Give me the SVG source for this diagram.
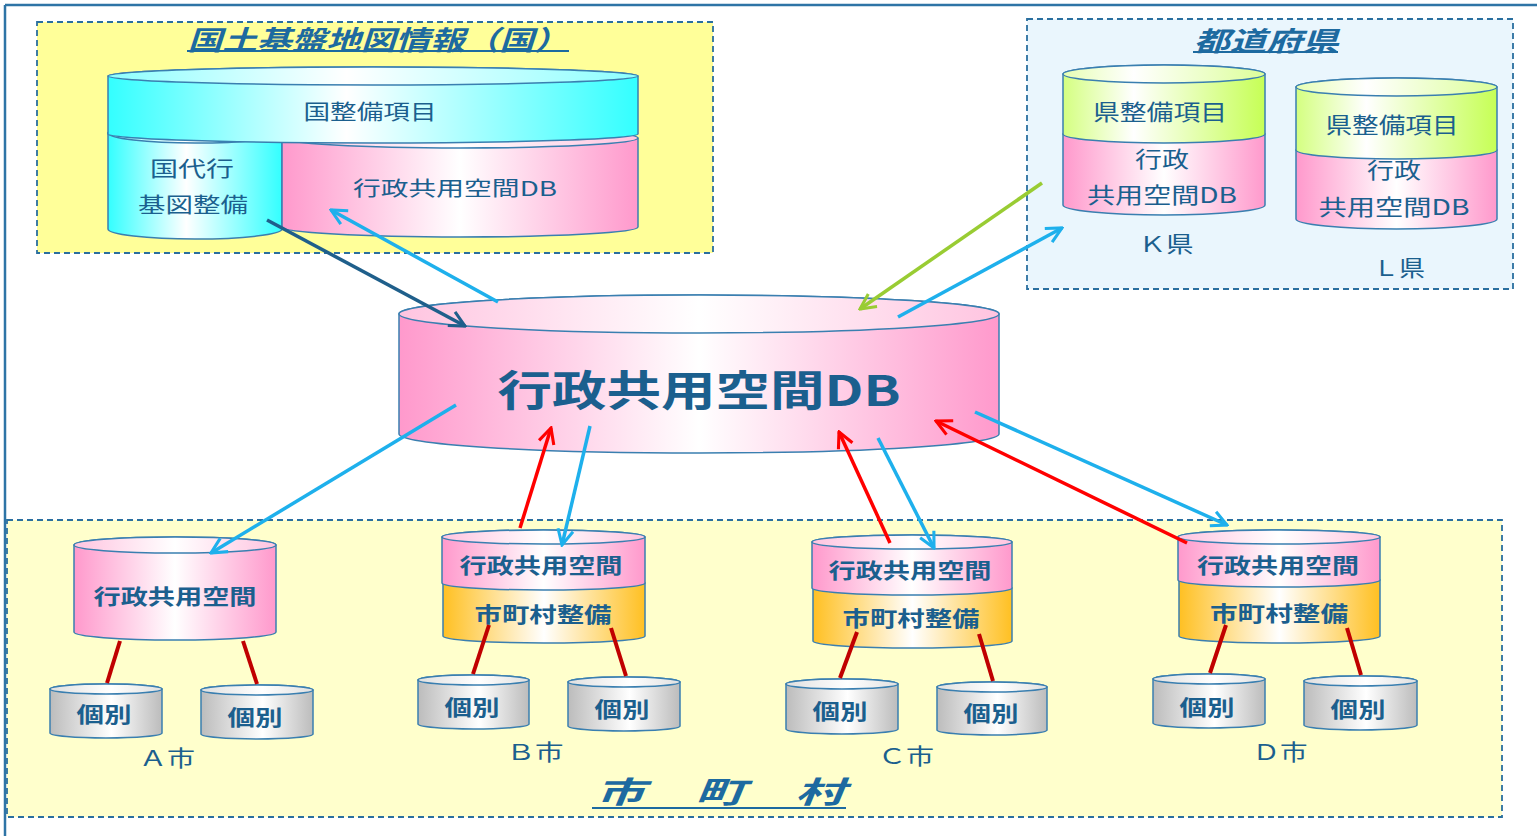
<svg xmlns="http://www.w3.org/2000/svg" width="1537" height="836" viewBox="0 0 1537 836">
<style>
.t{font-family:"Noto Sans CJK JP","Noto Sans CJK SC",sans-serif;fill:#1b5f8e;text-anchor:middle;dominant-baseline:central}
.b{font-weight:bold}
.ttl{font-style:italic;font-weight:bold;fill:#1d6aa0}
.ol{stroke:#3a7fb0;stroke-width:1.5}
.box{stroke:#2a6f9f;stroke-width:1.8;stroke-dasharray:6 4}
.ul{stroke:#1d6aa0;stroke-width:2}
.arr{fill:none;stroke-width:3.5}
.link{stroke:#c00000;stroke-width:4;stroke-linecap:butt}
</style>
<defs>
<linearGradient id="gPink" x1="0" y1="0" x2="1" y2="0"><stop offset="0" stop-color="#ff99cc"/><stop offset="0.5" stop-color="#ffffff"/><stop offset="1" stop-color="#ff99cc"/></linearGradient>
<linearGradient id="gPinkT" x1="0" y1="0" x2="1" y2="0"><stop offset="0" stop-color="#ffc4e0"/><stop offset="0.5" stop-color="#ffffff"/><stop offset="1" stop-color="#ffc4e0"/></linearGradient>
<linearGradient id="gCyan" x1="0" y1="0" x2="1" y2="0"><stop offset="0" stop-color="#33ffff"/><stop offset="0.45" stop-color="#ffffff"/><stop offset="1" stop-color="#33ffff"/></linearGradient>
<linearGradient id="gCyanT" x1="0" y1="0" x2="1" y2="0"><stop offset="0" stop-color="#8cffff"/><stop offset="0.45" stop-color="#ffffff"/><stop offset="1" stop-color="#8cffff"/></linearGradient>
<linearGradient id="gGreen" x1="0" y1="0" x2="1" y2="0"><stop offset="0" stop-color="#d4ff80"/><stop offset="0.35" stop-color="#ffffff"/><stop offset="1" stop-color="#c6ff55"/></linearGradient>
<linearGradient id="gGreenT" x1="0" y1="0" x2="1" y2="0"><stop offset="0" stop-color="#e6ffb3"/><stop offset="0.35" stop-color="#ffffff"/><stop offset="1" stop-color="#dcff99"/></linearGradient>
<linearGradient id="gOrange" x1="0" y1="0" x2="1" y2="0"><stop offset="0" stop-color="#ffc022"/><stop offset="0.5" stop-color="#ffffff"/><stop offset="1" stop-color="#ffc022"/></linearGradient>
<linearGradient id="gGray" x1="0" y1="0" x2="1" y2="0"><stop offset="0" stop-color="#bcbcbc"/><stop offset="0.55" stop-color="#ffffff"/><stop offset="1" stop-color="#bcbcbc"/></linearGradient>
<linearGradient id="gGrayT" x1="0" y1="0" x2="1" y2="0"><stop offset="0" stop-color="#e0e0e0"/><stop offset="0.55" stop-color="#ffffff"/><stop offset="1" stop-color="#e0e0e0"/></linearGradient>
<marker id="mDark" viewBox="0 0 10 10" refX="9" refY="5" markerWidth="5.5" markerHeight="5.5" orient="auto" markerUnits="strokeWidth"><path d="M1,1 L9,5 L1,9" fill="none" stroke="#1f5f8b" stroke-width="1.6"/></marker>
<marker id="mCyan" viewBox="0 0 10 10" refX="9" refY="5" markerWidth="5.5" markerHeight="5.5" orient="auto" markerUnits="strokeWidth"><path d="M1,1 L9,5 L1,9" fill="none" stroke="#1eb0ec" stroke-width="1.6"/></marker>
<marker id="mGreen" viewBox="0 0 10 10" refX="9" refY="5" markerWidth="5.5" markerHeight="5.5" orient="auto" markerUnits="strokeWidth"><path d="M1,1 L9,5 L1,9" fill="none" stroke="#99cc33" stroke-width="1.6"/></marker>
<marker id="mRed" viewBox="0 0 10 10" refX="9" refY="5" markerWidth="5.5" markerHeight="5.5" orient="auto" markerUnits="strokeWidth"><path d="M1,1 L9,5 L1,9" fill="none" stroke="#ff0000" stroke-width="1.6"/></marker>
</defs>
<rect x="0" y="0" width="1537" height="836" fill="#ffffff"/>
<g id="frame">
<line x1="5" y1="5" x2="1537" y2="5" stroke="#2e74a6" stroke-width="2.5"/>
<line x1="5" y1="5" x2="5" y2="836" stroke="#2e74a6" stroke-width="2.5"/>
</g>
<g id="region-kuni">
<rect class="box" x="37" y="22" width="676" height="231" fill="#ffff99"/>
<text class="t ttl" x="378" y="38" style="font-size:27px" textLength="381" lengthAdjust="spacingAndGlyphs">国土基盤地図情報（国）</text>
<line class="ul" x1="187" y1="51" x2="569" y2="51"/>
</g>
<g id="region-ken">
<rect class="box" x="1027" y="19" width="486" height="270" fill="#eaf6fd"/>
<text class="t ttl" x="1266" y="39" style="font-size:27px" textLength="145" lengthAdjust="spacingAndGlyphs">都道府県</text>
<line class="ul" x1="1193" y1="52" x2="1338" y2="52"/>
</g>
<g id="region-shichoson">
<rect class="box" x="7" y="520" width="1495" height="297" fill="#ffffcc"/>
<text class="t ttl" x="720" y="790" style="font-size:30px" textLength="250" lengthAdjust="spacingAndGlyphs">市　町　村</text>
<line class="ul" x1="592" y1="808" x2="846" y2="808"/>
</g>
<g id="node-kuni-db">
<path class="ol" d="M108,133 L108,229 A87,10 0 0 0 282,229 L282,133 A87,10 0 0 0 108,133 Z" fill="url(#gCyan)"/>
<ellipse class="ol" cx="195" cy="133" rx="87" ry="10" fill="url(#gCyanT)"/>
<path class="ol" d="M282,138 L282,227 A178,10 0 0 0 638,227 L638,138 A178,10 0 0 0 282,138 Z" fill="url(#gPink)"/>
<ellipse class="ol" cx="460" cy="138" rx="178" ry="10" fill="url(#gPinkT)"/>
<path class="ol" d="M108,76 L108,134 A265,9 0 0 0 638,134 L638,76 A265,9 0 0 0 108,76 Z" fill="url(#gCyan)"/>
<ellipse class="ol" cx="373" cy="76" rx="265" ry="9" fill="url(#gCyanT)"/>
<text class="t" x="370" y="110" style="font-size:21px" textLength="133" lengthAdjust="spacingAndGlyphs">国整備項目</text>
<text class="t" x="192" y="167" style="font-size:21px" textLength="84" lengthAdjust="spacingAndGlyphs">国代行</text>
<text class="t" x="193" y="203" style="font-size:21px" textLength="110" lengthAdjust="spacingAndGlyphs">基図整備</text>
<text class="t" x="455" y="187" style="font-size:20px" textLength="204" lengthAdjust="spacingAndGlyphs">行政共用空間DB</text>
</g>
<g id="node-k-ken">
<path class="ol" d="M1063,134 L1063,205 A101,10 0 0 0 1265,205 L1265,134 A101,10 0 0 0 1063,134 Z" fill="url(#gPink)"/>
<path class="ol" d="M1063,74 L1063,134 A101,9 0 0 0 1265,134 L1265,74 A101,9 0 0 0 1063,74 Z" fill="url(#gGreen)"/>
<ellipse class="ol" cx="1164" cy="74" rx="101" ry="9" fill="url(#gGreenT)"/>
<text class="t" x="1160" y="110" style="font-size:22px" textLength="134" lengthAdjust="spacingAndGlyphs">県整備項目</text>
<text class="t" x="1162" y="157" style="font-size:22px" textLength="54" lengthAdjust="spacingAndGlyphs">行政</text>
<text class="t" x="1162" y="193" style="font-size:22px" textLength="150" lengthAdjust="spacingAndGlyphs">共用空間DB</text>
<text class="t" x="1166" y="242" style="font-size:22px" textLength="55" lengthAdjust="spacingAndGlyphs">Ｋ県</text>
</g>
<g id="node-l-ken">
<path class="ol" d="M1296,150 L1296,219 A100.5,10 0 0 0 1497,219 L1497,150 A100.5,10 0 0 0 1296,150 Z" fill="url(#gPink)"/>
<path class="ol" d="M1296,87 L1296,150 A100.5,9 0 0 0 1497,150 L1497,87 A100.5,9 0 0 0 1296,87 Z" fill="url(#gGreen)"/>
<ellipse class="ol" cx="1396.5" cy="87" rx="100.5" ry="9" fill="url(#gGreenT)"/>
<text class="t" x="1392" y="123" style="font-size:22px" textLength="133" lengthAdjust="spacingAndGlyphs">県整備項目</text>
<text class="t" x="1394" y="168" style="font-size:22px" textLength="54" lengthAdjust="spacingAndGlyphs">行政</text>
<text class="t" x="1394" y="205" style="font-size:22px" textLength="151" lengthAdjust="spacingAndGlyphs">共用空間DB</text>
<text class="t" x="1399" y="266" style="font-size:22px" textLength="52" lengthAdjust="spacingAndGlyphs">Ｌ県</text>
</g>
<g id="node-central">
<path class="ol" d="M399,314 L399,434 A300,19 0 0 0 999,434 L999,314 A300,19 0 0 0 399,314 Z" fill="url(#gPink)"/>
<ellipse class="ol" cx="699" cy="314" rx="300" ry="19" fill="url(#gPinkT)"/>
<text class="t b" x="699" y="387" style="font-size:42px" textLength="403" lengthAdjust="spacingAndGlyphs">行政共用空間DB</text>
</g>
<g id="node-a">
<path class="ol" d="M74,545 L74,632 A101,8 0 0 0 276,632 L276,545 A101,8 0 0 0 74,545 Z" fill="url(#gPink)"/>
<ellipse class="ol" cx="175" cy="545" rx="101" ry="8" fill="url(#gPinkT)"/>
<text class="t b" x="175" y="595" style="font-size:21px" textLength="163" lengthAdjust="spacingAndGlyphs">行政共用空間</text>
<path class="ol" d="M50,689 L50,733 A56,5 0 0 0 162,733 L162,689 A56,5 0 0 0 50,689 Z" fill="url(#gGray)"/>
<ellipse class="ol" cx="106" cy="689" rx="56" ry="5" fill="url(#gGrayT)"/>
<text class="t b" x="104" y="713" style="font-size:21px" textLength="55" lengthAdjust="spacingAndGlyphs">個別</text>
<path class="ol" d="M201,690 L201,734 A56,5 0 0 0 313,734 L313,690 A56,5 0 0 0 201,690 Z" fill="url(#gGray)"/>
<ellipse class="ol" cx="257" cy="690" rx="56" ry="5" fill="url(#gGrayT)"/>
<text class="t b" x="255" y="716" style="font-size:21px" textLength="55" lengthAdjust="spacingAndGlyphs">個別</text>
<text class="t" x="167" y="756" style="font-size:22px" textLength="56" lengthAdjust="spacingAndGlyphs">Ａ市</text>
</g>
<g id="node-b">
<path class="ol" d="M443,583 L443,636 A101,7 0 0 0 645,636 L645,583 A101,7 0 0 0 443,583 Z" fill="url(#gOrange)"/>
<path class="ol" d="M442,537 L442,583 A101.5,7 0 0 0 645,583 L645,537 A101.5,7 0 0 0 442,537 Z" fill="url(#gPink)"/>
<ellipse class="ol" cx="543.5" cy="537" rx="101.5" ry="7" fill="url(#gPinkT)"/>
<text class="t b" x="541" y="564" style="font-size:21px" textLength="163" lengthAdjust="spacingAndGlyphs">行政共用空間</text>
<text class="t b" x="543" y="613" style="font-size:21px" textLength="137" lengthAdjust="spacingAndGlyphs">市町村整備</text>
<path class="ol" d="M418,680 L418,724 A55.5,5 0 0 0 529,724 L529,680 A55.5,5 0 0 0 418,680 Z" fill="url(#gGray)"/>
<ellipse class="ol" cx="473.5" cy="680" rx="55.5" ry="5" fill="url(#gGrayT)"/>
<text class="t b" x="472" y="706" style="font-size:21px" textLength="55" lengthAdjust="spacingAndGlyphs">個別</text>
<path class="ol" d="M568,682 L568,726 A56,5 0 0 0 680,726 L680,682 A56,5 0 0 0 568,682 Z" fill="url(#gGray)"/>
<ellipse class="ol" cx="624" cy="682" rx="56" ry="5" fill="url(#gGrayT)"/>
<text class="t b" x="622" y="708" style="font-size:21px" textLength="55" lengthAdjust="spacingAndGlyphs">個別</text>
<text class="t" x="535" y="750" style="font-size:22px" textLength="57" lengthAdjust="spacingAndGlyphs">Ｂ市</text>
</g>
<g id="node-c">
<path class="ol" d="M813,588 L813,641 A99.5,7 0 0 0 1012,641 L1012,588 A99.5,7 0 0 0 813,588 Z" fill="url(#gOrange)"/>
<path class="ol" d="M812,542 L812,588 A100,7 0 0 0 1012,588 L1012,542 A100,7 0 0 0 812,542 Z" fill="url(#gPink)"/>
<ellipse class="ol" cx="912" cy="542" rx="100" ry="7" fill="url(#gPinkT)"/>
<text class="t b" x="910" y="569" style="font-size:21px" textLength="163" lengthAdjust="spacingAndGlyphs">行政共用空間</text>
<text class="t b" x="911" y="617" style="font-size:21px" textLength="137" lengthAdjust="spacingAndGlyphs">市町村整備</text>
<path class="ol" d="M786,684 L786,729 A56,5 0 0 0 898,729 L898,684 A56,5 0 0 0 786,684 Z" fill="url(#gGray)"/>
<ellipse class="ol" cx="842" cy="684" rx="56" ry="5" fill="url(#gGrayT)"/>
<text class="t b" x="840" y="710" style="font-size:21px" textLength="55" lengthAdjust="spacingAndGlyphs">個別</text>
<path class="ol" d="M937,687 L937,730 A55,5 0 0 0 1047,730 L1047,687 A55,5 0 0 0 937,687 Z" fill="url(#gGray)"/>
<ellipse class="ol" cx="992" cy="687" rx="55" ry="5" fill="url(#gGrayT)"/>
<text class="t b" x="991" y="712" style="font-size:21px" textLength="55" lengthAdjust="spacingAndGlyphs">個別</text>
<text class="t" x="906" y="754" style="font-size:22px" textLength="56" lengthAdjust="spacingAndGlyphs">Ｃ市</text>
</g>
<g id="node-d">
<path class="ol" d="M1179,580 L1179,636 A100.5,7 0 0 0 1380,636 L1380,580 A100.5,7 0 0 0 1179,580 Z" fill="url(#gOrange)"/>
<path class="ol" d="M1178,537 L1178,580 A101,7 0 0 0 1380,580 L1380,537 A101,7 0 0 0 1178,537 Z" fill="url(#gPink)"/>
<ellipse class="ol" cx="1279" cy="537" rx="101" ry="7" fill="url(#gPinkT)"/>
<text class="t b" x="1278" y="564" style="font-size:21px" textLength="162" lengthAdjust="spacingAndGlyphs">行政共用空間</text>
<text class="t b" x="1279" y="612" style="font-size:21px" textLength="138" lengthAdjust="spacingAndGlyphs">市町村整備</text>
<path class="ol" d="M1153,679 L1153,723 A56,5 0 0 0 1265,723 L1265,679 A56,5 0 0 0 1153,679 Z" fill="url(#gGray)"/>
<ellipse class="ol" cx="1209" cy="679" rx="56" ry="5" fill="url(#gGrayT)"/>
<text class="t b" x="1207" y="706" style="font-size:21px" textLength="55" lengthAdjust="spacingAndGlyphs">個別</text>
<path class="ol" d="M1304,681 L1304,725 A56.5,5 0 0 0 1417,725 L1417,681 A56.5,5 0 0 0 1304,681 Z" fill="url(#gGray)"/>
<ellipse class="ol" cx="1360.5" cy="681" rx="56.5" ry="5" fill="url(#gGrayT)"/>
<text class="t b" x="1358" y="708" style="font-size:21px" textLength="55" lengthAdjust="spacingAndGlyphs">個別</text>
<text class="t" x="1280" y="750" style="font-size:22px" textLength="55" lengthAdjust="spacingAndGlyphs">Ｄ市</text>
</g>
<g id="connectors">
<line class="arr" x1="267" y1="220" x2="465" y2="326" stroke="#1f5f8b" marker-end="url(#mDark)"/>
<line class="arr" x1="498" y1="302" x2="331" y2="210" stroke="#1eb0ec" marker-end="url(#mCyan)"/>
<line class="arr" x1="1042" y1="183" x2="860" y2="309" stroke="#99cc33" marker-end="url(#mGreen)"/>
<line class="arr" x1="898" y1="317" x2="1062" y2="228" stroke="#1eb0ec" marker-end="url(#mCyan)"/>
<line class="arr" x1="456" y1="405" x2="211" y2="553" stroke="#1eb0ec" marker-end="url(#mCyan)"/>
<line class="arr" x1="520" y1="528" x2="551" y2="428" stroke="#ff0000" marker-end="url(#mRed)"/>
<line class="arr" x1="590" y1="426" x2="562" y2="545" stroke="#1eb0ec" marker-end="url(#mCyan)"/>
<line class="arr" x1="890" y1="543" x2="839" y2="432" stroke="#ff0000" marker-end="url(#mRed)"/>
<line class="arr" x1="878" y1="438" x2="934" y2="548" stroke="#1eb0ec" marker-end="url(#mCyan)"/>
<line class="arr" x1="1187" y1="543" x2="936" y2="421" stroke="#ff0000" marker-end="url(#mRed)"/>
<line class="arr" x1="975" y1="412" x2="1227" y2="525" stroke="#1eb0ec" marker-end="url(#mCyan)"/>
<line class="link" x1="120" y1="641" x2="107" y2="683"/>
<line class="link" x1="243" y1="641" x2="257" y2="684"/>
<line class="link" x1="489" y1="625" x2="473" y2="674"/>
<line class="link" x1="611" y1="628" x2="626" y2="676"/>
<line class="link" x1="857" y1="632" x2="840" y2="678"/>
<line class="link" x1="979" y1="634" x2="993" y2="681"/>
<line class="link" x1="1226" y1="625" x2="1210" y2="673"/>
<line class="link" x1="1347" y1="628" x2="1361" y2="675"/>
</g>
</svg>
